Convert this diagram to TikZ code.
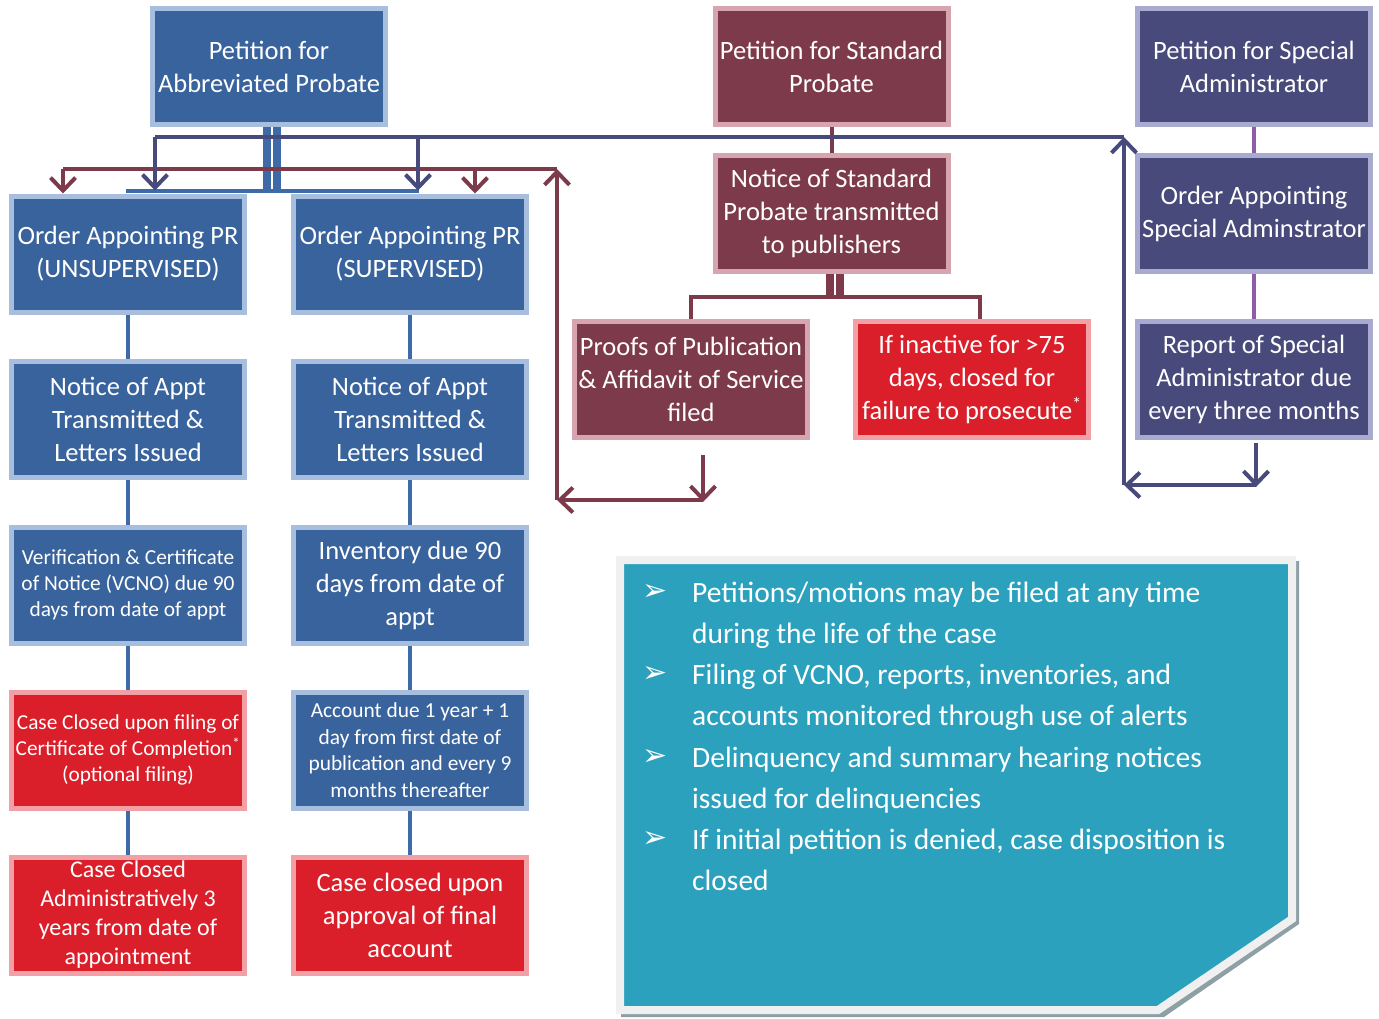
\documentclass[tikz,border=0pt]{standalone}
\usepackage{fontspec}
\setmainfont{Carlito}
\newfontfamily\djv{DejaVu Sans}
\usetikzlibrary{arrows.meta}
\definecolor{cBlue}{RGB}{57,99,156}
\definecolor{cBlueL}{RGB}{167,190,222}
\definecolor{cMar}{RGB}{125,58,74}
\definecolor{cMarL}{RGB}{214,165,176}
\definecolor{cRed}{RGB}{218,31,42}
\definecolor{cRedL}{RGB}{242,160,165}
\definecolor{cNavy}{RGB}{71,74,122}
\definecolor{cNavyL}{RGB}{168,170,207}
\definecolor{cTeal}{RGB}{44,161,190}
\definecolor{cPurp}{RGB}{140,94,166}
\definecolor{cLine}{RGB}{62,107,168}
\definecolor{cFrame}{RGB}{240,240,240}
\definecolor{cShadow}{RGB}{140,160,166}
\tikzset{
  bx/.style={rectangle, line width=5pt, minimum width=233pt, minimum height=116pt,
    inner sep=0pt, align=center, text=white, font=\fontsize{26.5}{33}\selectfont},
  bluebox/.style={bx, fill=cBlue, draw=cBlueL},
  marbox/.style={bx, fill=cMar, draw=cMarL},
  redbox/.style={bx, fill=cRed, draw=cRedL},
  navybox/.style={bx, fill=cNavy, draw=cNavyL},
  tip/.style={-{Straight Barb[length=13pt,width=25pt]}},
  bluec/.style={draw=cLine, line width=4.5pt},
  purpc/.style={draw=cPurp, line width=4.5pt},
  marc/.style={draw=cMar, line width=4pt},
  navyc/.style={draw=cNavy, line width=4pt},
  dbl/.style={line width=8pt, double distance=2pt, double=white},
  bullet/.style={text=white, font=\djv\fontsize{30}{30}\selectfont, inner sep=0pt},
  btext/.style={anchor=base west, text=white, align=left, inner sep=0pt,
    font=\fontsize{29.5}{41}\selectfont}
}
\begin{document}
\begin{tikzpicture}[x=1pt,y=-1pt]
\useasboundingbox (0,0) rectangle (1379,1018);
% teal note box
\fill[cShadow] (621,561) -- (1299,561) -- (1299,924) -- (1164,1017) -- (621,1017) -- cycle;
\filldraw[fill=cTeal, draw=cFrame, line width=8pt, line join=miter]
  (620,560) -- (1292,560) -- (1292,919) -- (1158,1010) -- (620,1010) -- cycle;
\node[bullet] (b1) at (655,592) {➢};
\node[bullet] (b2) at (655,674) {➢};
\node[bullet] (b3) at (655,757) {➢};
\node[bullet] (b4) at (655,839) {➢};
\node[btext] (t1) at (692,643) {Petitions/motions may be filed at any time\\during the life of the case};
\node[btext] (t2) at (692,725) {Filing of VCNO, reports, inventories, and\\accounts monitored through use of alerts};
\node[btext] (t3) at (692,808) {Delinquency and summary hearing notices\\issued for delinquencies};
\node[btext] (t4) at (692,890) {If initial petition is denied, case disposition is\\closed};

% boxes
\node[bluebox] (ab) at (269,66.5) {Petition for\\Abbreviated Probate};
\node[marbox] (std) at (831.5,66.5) {Petition for Standard\\Probate};
\node[navybox] (spec) at (1254,66.5) {Petition for Special\\Administrator};
\node[bluebox] (unsup) at (128,254) {Order Appointing PR\\(UNSUPERVISED)};
\node[bluebox] (sup) at (410,254) {Order Appointing PR\\(SUPERVISED)};
\node[marbox] (nstd) at (831.5,213.5) {Notice of Standard\\Probate transmitted\\to publishers};
\node[navybox] (osa) at (1254,213.5) {Order Appointing\\Special Adminstrator};
\node[bluebox] (n1) at (128,419.5) {Notice of Appt\\Transmitted \&\\Letters Issued};
\node[bluebox] (n2) at (410,419.5) {Notice of Appt\\Transmitted \&\\Letters Issued};
\node[marbox] (proofs) at (691,379) {Proofs of Publication\\\& Affidavit of Service\\filed};
\node[redbox] (inact) at (972,379) {If inactive for >75\\days, closed for\\failure to prosecute\textsuperscript{*}};
\node[navybox] (rep) at (1254,379) {Report of Special\\Administrator due\\every three months};
\node[bluebox, font=\fontsize{21.4}{26}\selectfont] (vcno) at (128,585) {Verification \& Certificate\\of Notice (VCNO) due 90\\days from date of appt};
\node[bluebox] (inv) at (410,585) {Inventory due 90\\days from date of\\appt};
\node[redbox, font=\fontsize{21.3}{26}\selectfont] (cc1) at (128,750) {Case Closed upon filing of\\Certificate of Completion\textsuperscript{*}\\(optional filing)};
\node[bluebox, font=\fontsize{21.4}{26.5}\selectfont] (acct) at (410,750) {Account due 1 year + 1\\day from first date of\\publication and every 9\\months thereafter};
\node[redbox, font=\fontsize{24}{29}\selectfont] (cc2) at (128,915) {Case Closed\\Administratively 3\\years from date of\\appointment};
\node[redbox] (cc3) at (410,915) {Case closed upon\\approval of final\\account};

% column connectors
\draw[bluec] (unsup) -- (n1); \draw[bluec] (n1) -- (vcno);
\draw[bluec] (vcno) -- (cc1); \draw[bluec] (cc1) -- (cc2);
\draw[bluec] (sup) -- (n2); \draw[bluec] (n2) -- (inv);
\draw[bluec] (inv) -- (acct); \draw[bluec] (acct) -- (cc3);
\draw[purpc] (spec) -- (osa); \draw[purpc] (osa) -- (rep);

% abbreviated probate fan-out
\coordinate (abj) at (272,191);
\coordinate (abL) at (126,191);
\coordinate (abR) at (419,191);
\draw[draw=cLine, dbl] (ab.south -| abj) -- (abj);
\draw[draw=cLine, line width=4pt] (abL) -- (abR);

% standard probate
\coordinate (sj) at (835,297);
\coordinate (sL) at (691,297);
\coordinate (sR) at (980,297);
\draw[marc] (std) -- (nstd);
\draw[draw=cMar, dbl] (nstd.south -| sj) -- (sj);
\draw[marc, line join=miter] (proofs.north -| sL) -- (sL) -- (sR) -- (inact.north -| sR);

% maroon loop from proofs
\coordinate (m1) at (703,455);
\coordinate (m2) at (703,500);
\coordinate (m3) at (557,500);
\coordinate (m4) at (557,169);
\coordinate (m5) at (63,169);
\coordinate (m6) at (475,169);
\draw[marc, tip] (m1) -- ([yshift=-2pt]m2);
\draw[marc, tip] (m2) -- (m3);
\draw[marc, tip] (m3) -- (m4);
\draw[marc] (m4) -- (m5);
\draw[marc, tip] (m5) -- (m5 |- unsup.north);
\draw[marc, tip] (m6) -- (m6 |- sup.north);

% navy loop from special administrator report
\coordinate (v1) at (1256,443);
\coordinate (v2) at (1256,485);
\coordinate (v3) at (1124,485);
\coordinate (v4) at (1124,137);
\coordinate (v5) at (155,137);
\coordinate (v6) at (418,137);
\draw[navyc, tip] (rep.south -| v1) ++(0,3) -- ([yshift=-2pt]v2);
\draw[navyc, tip] (v2) -- (v3);
\draw[navyc, tip] (v3) -- (v4);
\draw[navyc] (v4) -- (v5);
\draw[navyc, tip] (v5) -- ([yshift=3pt]v5 |- unsup.north);
\draw[navyc, tip] (v6) -- ([yshift=3pt]v6 |- sup.north);
\end{tikzpicture}
\end{document}
